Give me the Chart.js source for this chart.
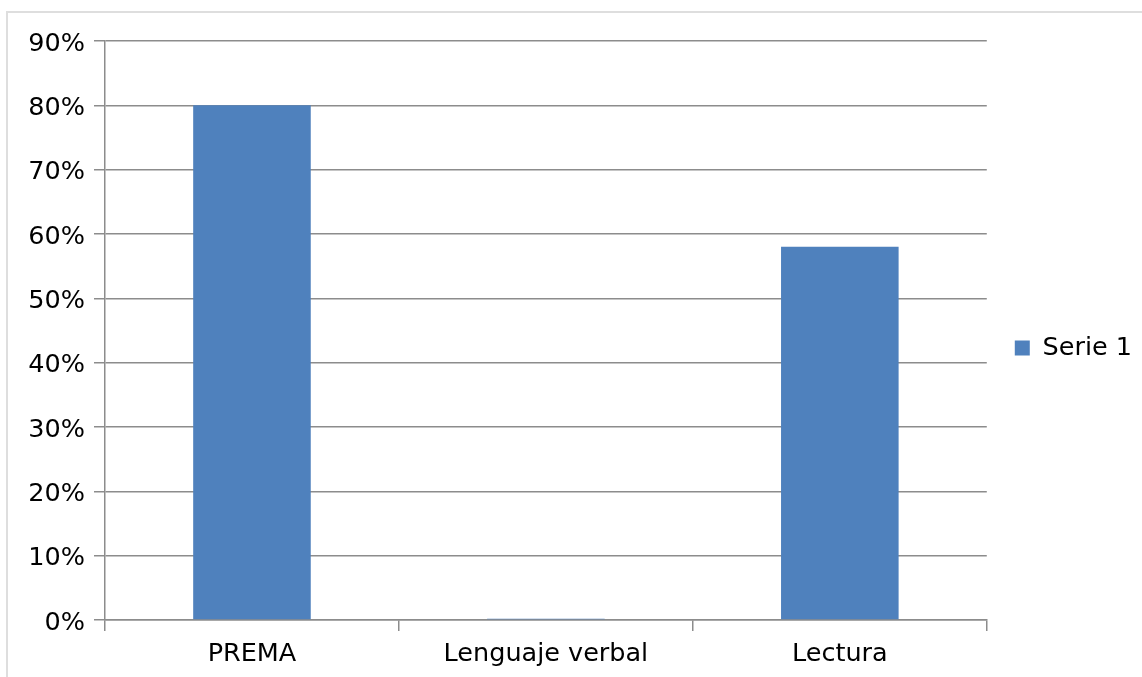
<!DOCTYPE html>
<html>
<head>
<meta charset="utf-8">
<script src="https://cdn.jsdelivr.net/npm/chart.js@4/dist/chart.umd.min.js"></script>
<style>
  html, body { margin: 0; padding: 0; background: #fff; }
  #frame { position: absolute; left: 6px; top: 11px; width: 1200px; height: 720px; border: 2px solid #dedede; }
  #wrap { position: absolute; left: 0; top: 0; width: 1142px; height: 677px; }
</style>
</head>
<body>
<div id="frame"></div>
<div id="wrap"><canvas id="chart" width="1142" height="677"></canvas></div>
<script>
const categories = ['PREMA', 'Lenguaje verbal', 'Lectura'];
const serie1 = [80, 0.2, 58];
const seriesName = 'Serie 1';
const yMax = 90;
const yStep = 10;

document.addEventListener('DOMContentLoaded', function() {
    const gridColor = '#8c8c8c';
    const font = { family: 'DejaVu Sans', size: 25.5 };

    const ctx = document.getElementById('chart').getContext('2d');
    const chart = new Chart(ctx, {
        type: 'bar',
        data: {
            labels: categories,
            datasets: [{
                label: seriesName,
                data: serie1,
                backgroundColor: '#4f81bd',
                borderWidth: 0,
                categoryPercentage: 1,
                barPercentage: 0.4
            }]
        },
        options: {
            responsive: false,
            animation: false,
            layout: { padding: { top: 19, right: 0, bottom: 0, left: 0 } },
            plugins: {
                tooltip: { enabled: false },
                // empty title only reserves space above the plot, so the legend sits higher
                title: {
                    display: true,
                    text: ' ',
                    font: { size: 10, lineHeight: 1 },
                    padding: { top: 6, bottom: 6 }
                },
                legend: {
                    position: 'right',
                    labels: {
                        boxWidth: 15,
                        boxHeight: 15,
                        padding: 28,
                        color: '#000',
                        font: font
                    }
                }
            },
            scales: {
                x: {
                    grid: { drawOnChartArea: false, drawTicks: true, tickLength: 11, color: gridColor, lineWidth: 1.5 },
                    border: { color: gridColor, width: 1.5 },
                    ticks: { color: '#000', font: font, padding: 8 },
                    afterFit: function(scale) { scale.height = 57; }
                },
                y: {
                    min: 0,
                    max: yMax,
                    grid: { color: gridColor, lineWidth: 1.5, tickLength: 11 },
                    border: { color: gridColor, width: 1.5 },
                    ticks: {
                        stepSize: yStep,
                        color: '#000',
                        font: font,
                        padding: 9,
                        labelOffset: 3,
                        callback: function(v) { return v + '%'; }
                    },
                    afterFit: function(scale) { scale.width = 105; }
                }
            }
        }
    });
});
</script>
</body>
</html>
